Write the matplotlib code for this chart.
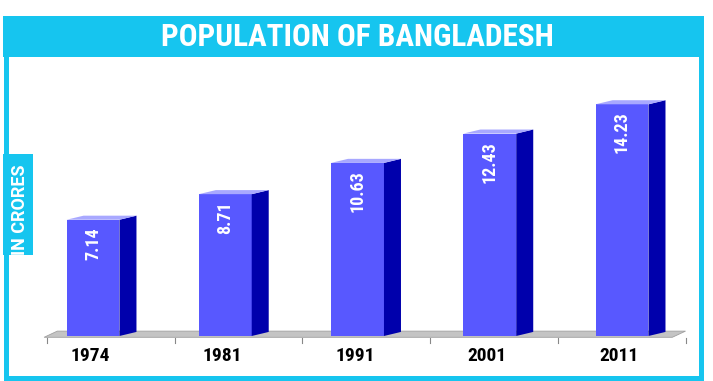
import matplotlib
matplotlib.use("Agg")
import matplotlib.pyplot as plt
import numpy as np
from matplotlib.patches import Polygon, Rectangle
from matplotlib import font_manager

years = ["1974", "1981", "1991", "2001", "2011"]
population = [7.14, 8.71, 10.63, 12.43, 14.23]
title = "POPULATION OF BANGLADESH"
ylabel = "IN CRORES"

names = {f.name for f in font_manager.fontManager.ttflist}
FONT = "DejaVu Sans"
for cand in ["Roboto Condensed", "Archivo Narrow", "Asap Condensed"]:
    if cand in names:
        FONT = cand
        break
LABEL_FONT = "Roboto" if "Roboto" in names else FONT
plt.rcParams["font.family"] = [FONT, "DejaVu Sans"]

CYAN = "#16c5ef"
FRONT = "#5858ff"
SIDE = "#0000ac"
TOP = "#a8a8ff"

W, H = 713, 381
fig = plt.figure(figsize=(W / 100, H / 100), dpi=100)

def fx(px):
    return px / W

def fy(py):
    return 1 - py / H

# frame
fig.add_artist(Rectangle((fx(5.5), fy(377.5)), fx(700.5 - 5.5), (377.5 - 18) / H,
                         transform=fig.transFigure, facecolor="none",
                         edgecolor=CYAN, linewidth=3.6, zorder=0))
fig.add_artist(Rectangle((fx(3), fy(57)), fx(703 - 3), (57 - 16.5) / H,
                         transform=fig.transFigure, facecolor=CYAN,
                         edgecolor="none", zorder=1))
fig.text(fx(357), fy(37.5), title, color="white", fontsize=22.5, fontweight="bold",
         ha="center", va="center", zorder=2)
# y label box
fig.add_artist(Rectangle((fx(3), fy(255)), fx(30), (255 - 154) / H,
                         transform=fig.transFigure, facecolor=CYAN,
                         edgecolor="none", zorder=1))
fig.text(fx(20), fy(210), ylabel, color="white", fontsize=13, fontweight="bold",
         family=[LABEL_FONT, "DejaVu Sans"],
         rotation=90, ha="center", va="center", zorder=2)

ax = fig.add_axes([fx(45.4), 45 / H, fx(690.8 - 45.4), (336 - 60) / H])
ax.set_xlim(-0.36, 4.52)
ax.set_ylim(0, 16.95)
ax.axis("off")

w = 0.4
dx = 0.1286
dy = 0.25
xs = list(range(len(years)))

floor = Polygon([(-0.37, -0.08), (4.38, -0.08), (4.48, 0.30), (-0.27, 0.30)],
                closed=True, facecolor="#c4c4c4", edgecolor="#a0a0a0",
                linewidth=0.6, clip_on=False, zorder=1)
ax.add_patch(floor)

ax.bar(xs, population, width=w, color=FRONT, zorder=3)
for x, v in zip(xs, population):
    r = x + w / 2
    l = x - w / 2
    ax.add_patch(Polygon([(r, 0), (r + dx, dy), (r + dx, v + dy), (r, v)],
                         closed=True, facecolor=SIDE, edgecolor="none", zorder=3))
    ax.add_patch(Polygon([(l, v), (r, v), (r + dx, v + dy), (l + dx, v + dy)],
                         closed=True, facecolor=TOP, edgecolor="none", zorder=3))
    ax.text(x, v - 0.45, f"{v:.2f}", rotation=90, ha="center", va="top",
            color="white", fontsize=13, fontweight="bold", zorder=4)
    ax.text(x - 0.02, -1.2, years[x], ha="center", va="center", color="black",
            fontsize=14, fontweight="bold", clip_on=False)

for t in np.linspace(-0.348, 4.48, len(years) + 1):
    ax.plot([t, t], [-0.15, -0.45], color="#888888", linewidth=0.8,
            clip_on=False, zorder=2)

fig.savefig("out.png", dpi=100)
